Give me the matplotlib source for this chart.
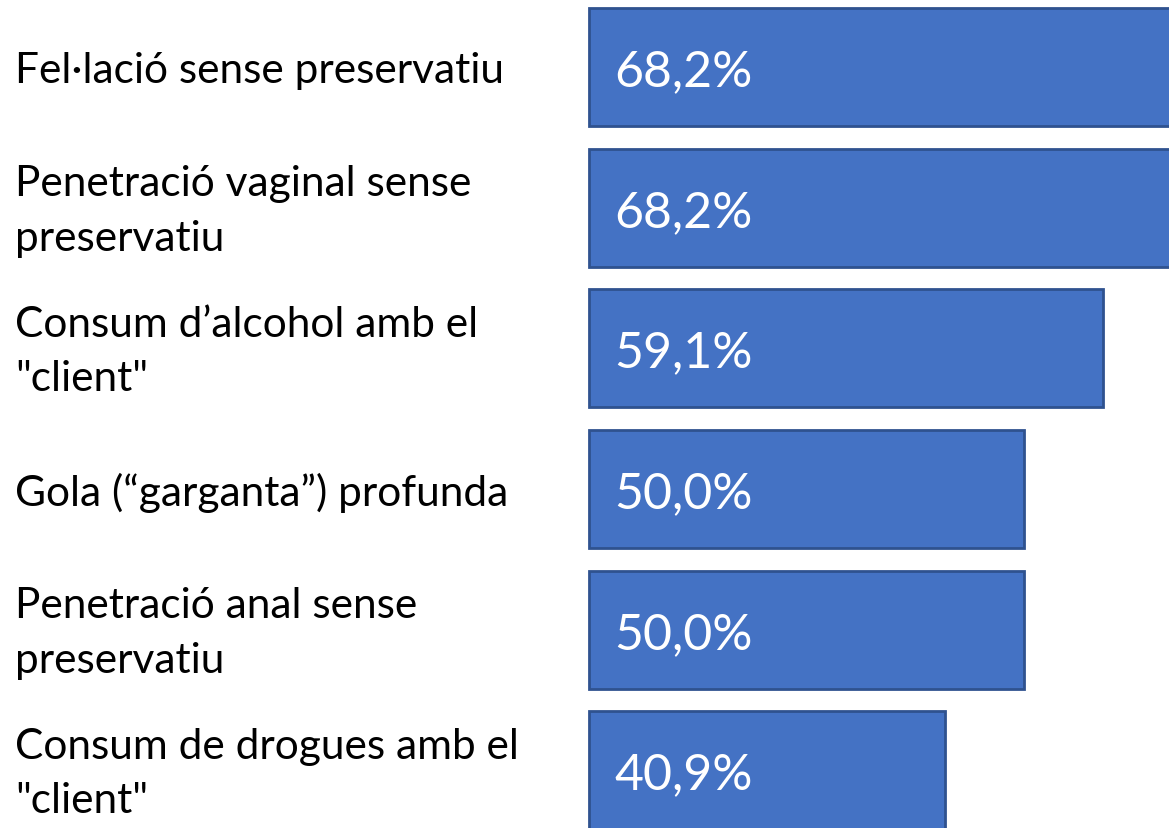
import matplotlib.pyplot as plt

labels = [
    "Fel·lació sense preservatiu",
    "Penetració vaginal sense\npreservatiu",
    "Consum d\u2019alcohol amb el\n\"client\"",
    "Gola (\u201cgarganta\u201d) profunda",
    "Penetració anal sense\npreservatiu",
    "Consum de drogues amb el\n\"client\"",
]
values = [68.2, 68.2, 59.1, 50.0, 50.0, 40.9]

plt.rcParams['font.family'] = ['Lato', 'DejaVu Sans']

fig = plt.figure(figsize=(11.69, 8.29), dpi=100)
ax = fig.add_axes([0, 0, 1, 1])

# px per percent ~8.7, bars start at ~589 px
scale = 8.7
x0 = 589
ax.set_xlim(-x0 / scale, (1169 - x0) / scale)
ax.set_ylim(5.41, -0.484)
ax.axis('off')

pos = list(range(len(values)))
ax.barh(pos, values, height=0.84, color='#4472C4', edgecolor='#2F528F', linewidth=2)

for i, (lab, v) in enumerate(zip(labels, values)):
    ax.text(15 / 1169, i + 0.02, lab, transform=ax.get_yaxis_transform(), ha='left', va='center',
            fontsize=30.5, color='black', linespacing=1.52)
    ax.text(2.9, i + 0.03, f"{v:.1f}%".replace('.', ','), ha='left', va='center',
            fontsize=36, color='white')

fig.savefig('out.png', dpi=100)
